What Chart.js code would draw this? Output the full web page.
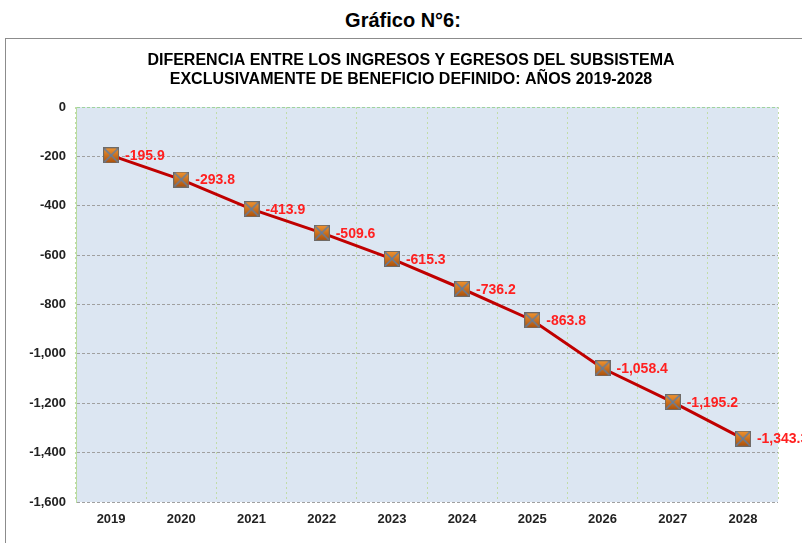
<!DOCTYPE html>
<html>
<head>
<meta charset="utf-8">
<script src="https://cdn.jsdelivr.net/npm/chart.js@4"></script>
<style>
    html, body { margin: 0; padding: 0; background: #fff; overflow: hidden; width: 802px; height: 543px; }
    #heading {
        position: absolute; left: 0; top: 9px; width: 806px; text-align: center;
        font: bold 20px "Liberation Sans", Arial, sans-serif; color: #000;
    }
    #frame {
        position: absolute; left: 5px; top: 38px; width: 810px; height: 520px;
        border: 1px solid #8c8c8c; background: #fff;
    }
</style>
</head>
<body>
<div id="heading">Gráfico N°6:</div>
<div id="frame"><canvas id="diffChart" width="810" height="520"></canvas></div>
<script>
const years = ['2019', '2020', '2021', '2022', '2023', '2024', '2025', '2026', '2027', '2028'];
const diferencia = [-195.9, -293.8, -413.9, -509.6, -615.3, -736.2, -863.8, -1058.4, -1195.2, -1343.3];
const yMin = -1600;
const yMax = 0;
const yStep = 200;
const chartTitle = ['DIFERENCIA ENTRE LOS INGRESOS Y EGRESOS DEL SUBSISTEMA',
                    'EXCLUSIVAMENTE DE BENEFICIO DEFINIDO: AÑOS 2019-2028'];

document.addEventListener('DOMContentLoaded', function() {
    const font = '"Liberation Sans", Arial, sans-serif';

    // orange square marker with an X across it
    function makeMarker() {
        const c = document.createElement('canvas');
        c.width = 16; c.height = 16;
        const g = c.getContext('2d');
        const grad = g.createLinearGradient(0, 0, 0, 16);
        grad.addColorStop(0, '#f3952f');
        grad.addColorStop(1, '#a94f0b');
        g.fillStyle = grad;
        g.fillRect(0.5, 0.5, 15, 15);
        g.strokeStyle = '#5f7ea3';
        g.lineWidth = 1.5;
        g.beginPath();
        g.moveTo(1, 1); g.lineTo(15, 15);
        g.moveTo(15, 1); g.lineTo(1, 15);
        g.stroke();
        g.strokeStyle = '#6f6a66';
        g.lineWidth = 1;
        g.strokeRect(0.5, 0.5, 15, 15);
        return c;
    }

    const plotBackground = {
        id: 'plotBackground',
        beforeDraw(chart) {
            const a = chart.chartArea;
            chart.ctx.save();
            chart.ctx.fillStyle = '#dce6f2';
            chart.ctx.fillRect(a.left, a.top, a.right - a.left, a.bottom - a.top);
            chart.ctx.restore();
        }
    };

    // two-line title, centred on the frame rather than the plot
    const frameTitle = {
        id: 'frameTitle',
        afterDraw(chart) {
            const ctx = chart.ctx;
            ctx.save();
            ctx.font = 'bold 16px ' + font;
            ctx.fillStyle = '#000';
            ctx.textAlign = 'center';
            ctx.textBaseline = 'middle';
            chartTitle.forEach((line, i) => ctx.fillText(line, 405, 22 + i * 19));
            ctx.restore();
        }
    };

    const valueLabels = {
        id: 'valueLabels',
        afterDatasetsDraw(chart) {
            const ctx = chart.ctx;
            const meta = chart.getDatasetMeta(0);
            ctx.save();
            ctx.font = 'bold 14px ' + font;
            ctx.fillStyle = '#ff2020';
            ctx.textAlign = 'left';
            ctx.textBaseline = 'middle';
            meta.data.forEach((pt, i) => {
                const txt = diferencia[i].toLocaleString('en-US', { minimumFractionDigits: 1, maximumFractionDigits: 1 });
                ctx.fillText(txt, pt.x + 14, pt.y + 1);
            });
            ctx.restore();
        }
    };

    const ctx = document.getElementById('diffChart').getContext('2d');
    new Chart(ctx, {
        type: 'line',
        data: {
            labels: years,
            datasets: [{
                data: diferencia,
                borderColor: '#c00000',
                borderWidth: 3,
                tension: 0,
                pointStyle: makeMarker(),
                pointRadius: 8,
                pointHoverRadius: 8
            }]
        },
        options: {
            responsive: false,
            animation: false,
            layout: { padding: { left: 0, right: 38, top: 68, bottom: 0 } },
            plugins: {
                legend: { display: false },
                tooltip: { enabled: false },
                title: { display: false }
            },
            scales: {
                x: {
                    offset: true,
                    grid: { offset: true, color: '#c2dca8', drawTicks: false },
                    border: { display: false, dash: [2, 3] },
                    ticks: { color: '#222', font: { family: font, size: 13, weight: 'bold' }, padding: 10 },
                    afterFit(scale) { scale.height = 57; }
                },
                y: {
                    min: yMin,
                    max: yMax,
                    grid: {
                        color: (c) => (c.tick && c.tick.value === yMax) ? '#9fd39c' : '#a0a0a0',
                        drawTicks: false
                    },
                    border: { display: true, color: '#b9dca0', dash: [3, 2] },
                    ticks: {
                        stepSize: yStep,
                        color: '#222',
                        font: { family: font, size: 13, weight: 'bold' },
                        padding: 10,
                        callback: (v) => v.toLocaleString('en-US')
                    },
                    afterFit(scale) { scale.width = 70; }
                }
            }
        },
        plugins: [plotBackground, frameTitle, valueLabels]
    });
});
</script>
</body>
</html>
